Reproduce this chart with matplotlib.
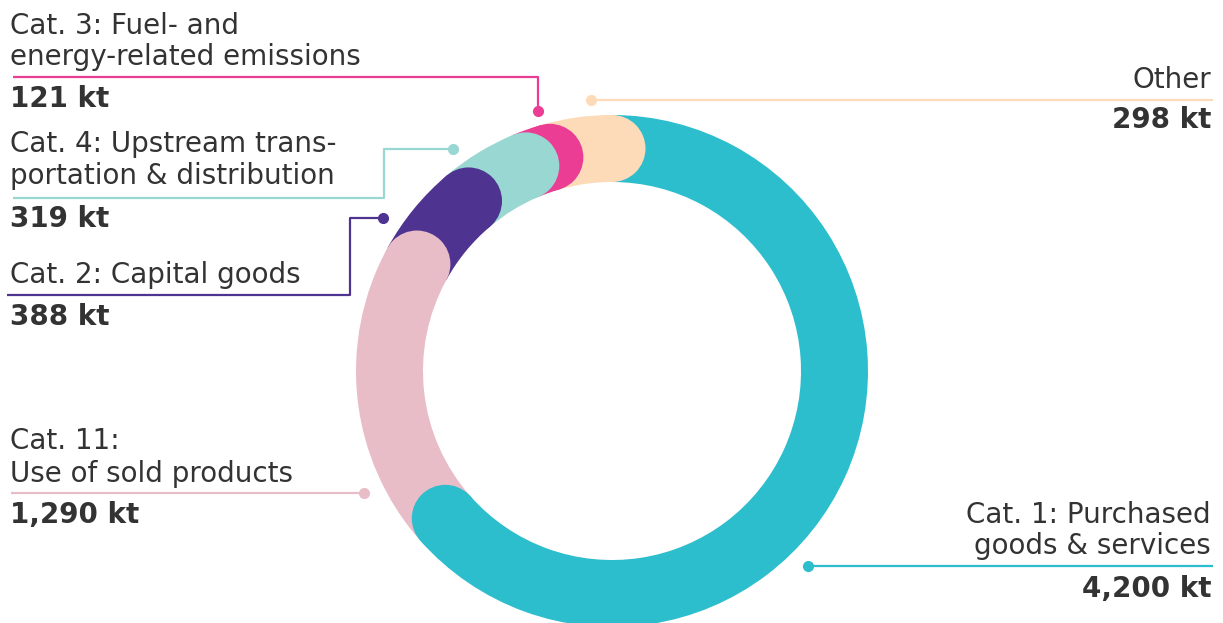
import matplotlib
matplotlib.use("Agg")
import matplotlib.pyplot as plt
from matplotlib.patches import Wedge, Circle
import numpy as np

plt.rcParams["font.family"] = ["DejaVu Sans"]

# ---- data ----
categories = ["Cat. 1: Purchased goods & services", "Cat. 11: Use of sold products",
              "Cat. 2: Capital goods", "Cat. 4: Upstream transportation & distribution",
              "Cat. 3: Fuel- and energy-related emissions", "Other"]
values_kt = [4200, 1290, 388, 319, 121, 298]
value_labels = ["4,200 kt", "1,290 kt", "388 kt", "319 kt", "121 kt", "298 kt"]
label_lines = [["Cat. 1: Purchased", "goods & services"],
               ["Cat. 11:", "Use of sold products"],
               ["Cat. 2: Capital goods"],
               ["Cat. 4: Upstream trans-", "portation & distribution"],
               ["Cat. 3: Fuel- and", "energy-related emissions"],
               ["Other"]]
colors = ["#2DBECD", "#E8BDC7", "#4F3390", "#99D7D2", "#EC3D94", "#FDDAB8"]

# ---- layout (pixel space, y measured from top) ----
W, H = 1223, 623
fig = plt.figure(figsize=(W / 100, H / 100), dpi=100)
ax = fig.add_axes([0, 0, 1, 1])
ax.set_xlim(0, W)
ax.set_ylim(0, H)
ax.set_aspect("equal")
ax.axis("off")

def Y(y):
    return H - y

cx, cy = 612, Y(371)
r_out, width = 256, 67
r_mid = r_out - width / 2
TEXT = "#333333"
FS = 20

vals = np.array(values_kt, dtype=float)
fr = vals / vals.sum()
ends = np.cumsum(fr) * 360.0          # clockwise from top
starts = ends - fr * 360.0

def std(a):  # clockwise-from-top -> matplotlib ccw-from-x
    return 90.0 - a

def cap_center(a):
    t = np.deg2rad(std(a))
    return cx + r_mid * np.cos(t), cy + r_mid * np.sin(t)

n = len(vals)
def body(i, z):
    ax.add_patch(Wedge((cx, cy), r_out, std(ends[i]), std(starts[i]), width=width,
                       facecolor=colors[i], edgecolor="none", zorder=z))
def cap(i, z):
    ax.add_patch(Circle(cap_center(ends[i]), width / 2, facecolor=colors[i],
                        edgecolor="none", zorder=z))

z = 1
body(0, z)
for i in range(n - 1, 0, -1):
    z += 1
    body(i, z)
    z += 1
    cap(i, z)
z += 1
cap(0, z)

# ---- leader lines (layout) ----
leaders = {
    0: [(808, 566), (1213, 566)],
    1: [(364, 493), (11, 493)],
    2: [(383, 218), (350, 218), (350, 295), (7, 295)],
    3: [(453, 149), (384, 149), (384, 198), (13, 198)],
    4: [(538, 111), (538, 77), (13, 77)],
    5: [(591, 100), (1213, 100)],
}
for i, pts in leaders.items():
    xs = [p[0] for p in pts]
    ys = [Y(p[1]) for p in pts]
    ax.plot(xs, ys, color=colors[i], lw=1.6, solid_capstyle="butt", zorder=20)
    ax.plot(xs[0], ys[0], "o", color=colors[i], ms=7, zorder=21)

# ---- labels (layout: baselines) ----
label_pos = {
    0: (1211, [523, 554], 597, "right"),
    1: (10, [449, 482], 523, "left"),
    2: (10, [283], 325, "left"),
    3: (10, [152, 184], 227, "left"),
    4: (10, [34, 65], 107, "left"),
    5: (1211, [88], 128, "right"),
}
for i, (x, bls, vb, ha) in label_pos.items():
    for line, bl in zip(label_lines[i], bls):
        ax.text(x, Y(bl), line, ha=ha, va="baseline", fontsize=FS, color=TEXT)
    ax.text(x, Y(vb), value_labels[i], ha=ha, va="baseline", fontsize=FS,
            fontweight="bold", color=TEXT)

fig.savefig("out.png", dpi=100, facecolor="white")
